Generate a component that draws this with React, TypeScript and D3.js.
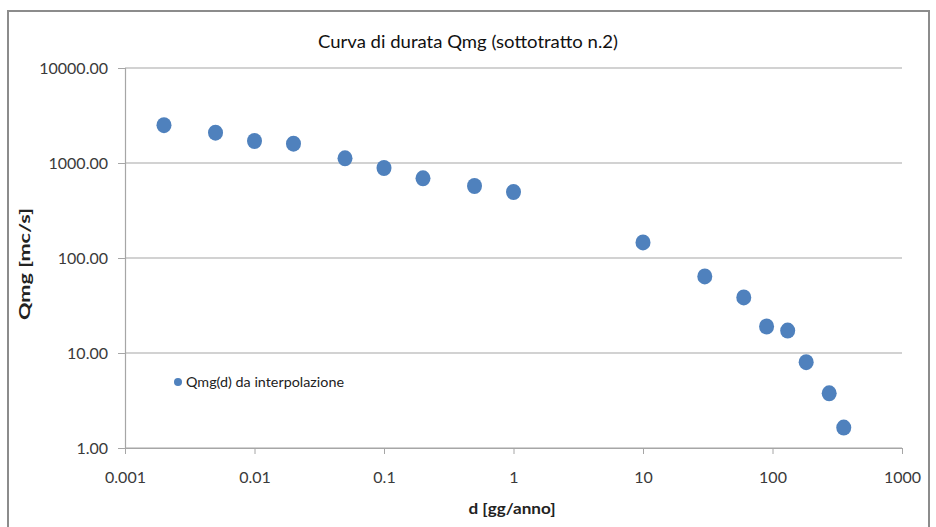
import React, { useEffect, useRef } from "react";
import * as d3 from "d3";

// duration curve
const durations = [0.002, 0.005, 0.01, 0.02, 0.05, 0.1, 0.2, 0.5, 1, 10, 30, 60, 90, 131, 182, 274, 355];
const discharges = [2500, 2085, 1705, 1597, 1121, 886, 690, 573, 495, 146, 64, 38.5, 19, 17.2, 8.0, 3.76, 1.64];
const xTicks = [0.001, 0.01, 0.1, 1, 10, 100, 1000];
const yTicks = [1, 10, 100, 1000, 10000];
const xTickLabels = ["0.001", "0.01", "0.1", "1", "10", "100", "1000"];

const chartTitle = "Curva di durata Qmg (sottotratto n.2)";
const xTitle = "d [gg/anno]";
const yTitle = "Qmg [mc/s]";
const seriesName = "Qmg(d) da interpolazione";

const W = 936;
const H = 527;
const margin = { top: 68, right: 34, bottom: 79, left: 125 };
const blue = "#4f81bd";
const font = "Lato, 'Open Sans', sans-serif";

function DurationChart() {
  const gRef = useRef<SVGGElement>(null);
  const width = W - margin.left - margin.right;
  const height = H - margin.top - margin.bottom;

  useEffect(() => {
    const g = d3.select(gRef.current);
    g.selectAll("*").remove();

    const x = d3.scaleLog().domain([0.001, 1000]).range([0, width]);
    const y = d3.scaleLog().domain([1, 10000]).range([height, 0]);

    // horizontal gridlines
    g.append("g")
      .selectAll("line")
      .data(yTicks)
      .join("line")
      .attr("x1", 0)
      .attr("x2", width)
      .attr("y1", d => y(d))
      .attr("y2", d => y(d))
      .attr("stroke", "#a6a6a6")
      .attr("stroke-width", 1.2);

    // y axis
    const yAxis = d3.axisLeft(y)
      .tickValues(yTicks)
      .tickFormat(d => d3.format(".2f")(d as number))
      .tickSize(7)
      .tickPadding(10);
    const ya = g.append("g").call(yAxis);
    ya.select(".domain").attr("stroke", "#a6a6a6").attr("stroke-width", 1.2);
    ya.selectAll(".tick line").attr("stroke", "#a6a6a6");
    ya.selectAll(".tick text")
      .attr("font-family", font)
      .attr("font-size", 16)
      .attr("fill", "#3a3a3a");

    // x axis
    const xAxis = d3.axisBottom(x)
      .tickValues(xTicks)
      .tickFormat((d, i) => xTickLabels[i])
      .tickSize(6)
      .tickSizeOuter(0)
      .tickPadding(18);
    const xa = g.append("g").attr("transform", `translate(0,${height})`).call(xAxis);
    xa.select(".domain").attr("stroke", "#a6a6a6").attr("stroke-width", 1.2);
    xa.selectAll(".tick line").attr("stroke", "#a6a6a6");
    xa.selectAll(".tick text")
      .attr("font-family", font)
      .attr("font-size", 16)
      .attr("fill", "#3a3a3a");

    // points
    g.append("g")
      .selectAll("ellipse")
      .data(durations.map((d, i) => [d, discharges[i]]))
      .join("ellipse")
      .attr("cx", d => x(d[0]))
      .attr("cy", d => y(d[1]))
      .attr("rx", 7.5)
      .attr("ry", 8)
      .attr("fill", blue);
  }, [width, height]);

  return (
    <svg width={W} height={H} style={{ position: "absolute", left: 0, top: 0, background: "#fff" }}>
      <rect x={8} y={11} width={921} height={530} fill="#fff" stroke="#8c8c8c" strokeWidth={2} />
      <text x={468} y={48} textAnchor="middle" fontFamily={font} fontSize={18} fontWeight={400}
        fill="#111" textLength={300} lengthAdjust="spacingAndGlyphs">{chartTitle}</text>
      <g ref={gRef} transform={`translate(${margin.left},${margin.top})`} />
      <text x={512} y={514} textAnchor="middle" fontFamily={font} fontSize={15} fontWeight={700}
        fill="#222" textLength={87} lengthAdjust="spacingAndGlyphs">{xTitle}</text>
      <text transform="translate(30,264) rotate(-90)" textAnchor="middle" fontFamily={font} fontSize={15}
        fontWeight={700} fill="#222" textLength={112} lengthAdjust="spacingAndGlyphs">{yTitle}</text>
      <circle cx={178} cy={382} r={4} fill={blue} />
      <text x={186} y={387} fontFamily={font} fontSize={13} fill="#222" textLength={158}
        lengthAdjust="spacingAndGlyphs">{seriesName}</text>
    </svg>
  );
}

export default function App() {
  return <DurationChart />;
}
